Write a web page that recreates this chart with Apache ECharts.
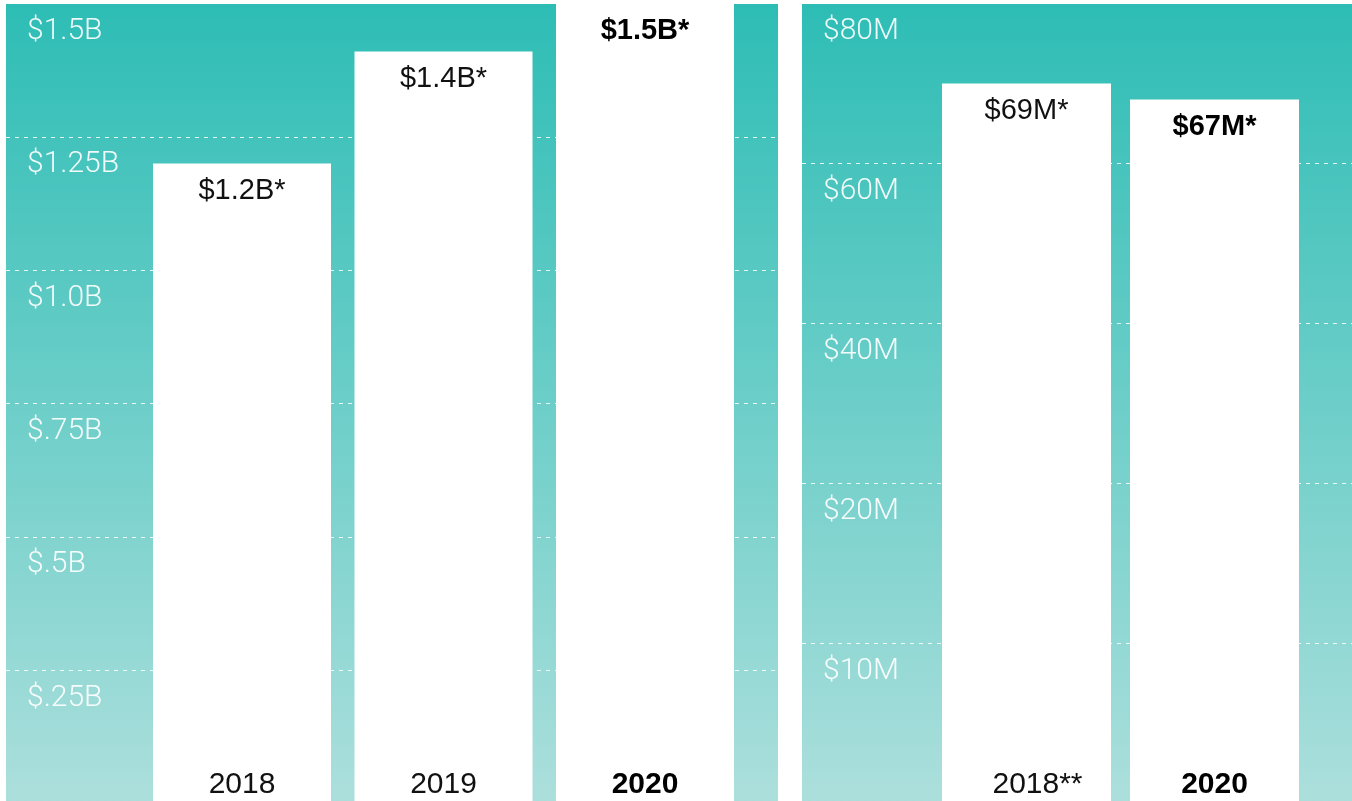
<!DOCTYPE html>
<html>
<head>
    <title>Revenue bars</title>
    <meta charset="utf-8" />
    <script src="https://cdn.jsdelivr.net/npm/echarts@6/dist/echarts.min.js"></script>
    <style type="text/css">
        html,
        body {
            width: 100%;
            height: 100%;
            margin: 0;
            background: #fff;
        }

        #chart {
            width: 1352px;
            height: 801px;
        }
    </style>
</head>

<body>
    <div id="chart"></div>
    <script>
        // left panel, $B
        var leftCategories = ['2018', '2019', '2020'];
        var leftValues = [1.2, 1.41, 1.5];
        var leftValueLabels = ['$1.2B*', '$1.4B*', '$1.5B*'];
        var leftTickLabels = ['', '$.25B', '$.5B', '$.75B', '$1.0B', '$1.25B', '$1.5B'];
        var leftBold = 2;

        // right panel, $M (axis ticks are not evenly spaced in value)
        var rightCategories = ['2018**', '2020'];
        var rightValues = [70, 68];
        var rightValueLabels = ['$69M*', '$67M*'];
        var rightTickValues = [0, 10, 20, 40, 60, 80];
        var rightTickLabels = ['', '$10M', '$20M', '$40M', '$60M', '$80M'];
        var rightBold = 1;

        // value -> tick position on the right axis (piecewise between ticks)
        function rightPos(v) {
            for (var i = 0; i < rightTickValues.length - 1; i++) {
                var a = rightTickValues[i], b = rightTickValues[i + 1];
                if (v <= b) return i + (v - a) / (b - a);
            }
            return rightTickValues.length - 1;
        }

        var TOP = 3.5, H = 800;
        var blackFont = '"Liberation Sans", Arial, Helvetica, sans-serif';
        var lightFont = 'Roboto, "Liberation Sans", sans-serif';

        function panelBg(x, w) {
            return {
                type: 'rect',
                z: -1,
                silent: true,
                shape: { x: x, y: 4, width: w, height: 797 },
                style: {
                    fill: new echarts.graphic.LinearGradient(0, 0, 0, 1, [
                        { offset: 0, color: '#2dbdb5' },
                        { offset: 1, color: '#acdfdc' }
                    ])
                }
            };
        }

        function bgYAxis(gridIndex, max, interval, labelFn) {
            return {
                type: 'value',
                gridIndex: gridIndex,
                min: 0,
                max: max,
                interval: interval,
                axisLine: { show: false },
                axisTick: { show: false },
                splitLine: {
                    show: true,
                    lineStyle: { color: 'rgba(255,255,255,0.85)', width: 1, type: [4, 5] }
                },
                axisLabel: {
                    inside: true,
                    margin: 21,
                    align: 'left',
                    verticalAlign: 'top',
                    padding: [13, 0, 0, 0],
                    lineHeight: 30,
                    fontSize: 30,
                    fontWeight: 300,
                    fontFamily: lightFont,
                    color: 'rgba(255,255,255,0.92)',
                    formatter: labelFn
                }
            };
        }

        function catXAxis(gridIndex, cats, boldIdx) {
            return {
                type: 'category',
                gridIndex: gridIndex,
                data: cats,
                z: 10,
                axisLine: { show: false },
                axisTick: { show: false },
                axisLabel: {
                    margin: -34,
                    interval: 0,
                    formatter: function (v, i) {
                        if (i === boldIdx) return '{b|' + v + '}';
                        // keep the year centred, let trailing asterisks hang
                        return (/\*\*$/.test(v) ? '{p|' : '{n|') + v + '}';
                    },
                    rich: {
                        n: { fontSize: 30, lineHeight: 30, fontFamily: blackFont, color: '#111' },
                        p: { fontSize: 30, lineHeight: 30, fontFamily: blackFont, color: '#111', padding: [0, 0, 0, 22] },
                        b: { fontSize: 30, lineHeight: 30, fontFamily: blackFont, fontWeight: 'bold', color: '#000' }
                    }
                }
            };
        }

        function barSeries(axisIndex, values, labels, boldIdx, width) {
            return {
                type: 'bar',
                xAxisIndex: axisIndex,
                yAxisIndex: axisIndex,
                barWidth: width,
                silent: true,
                z: 1,
                itemStyle: { color: '#ffffff' },
                label: {
                    show: true,
                    position: 'insideTop',
                    distance: 13,
                    fontSize: 29,
                    lineHeight: 29,
                    fontFamily: blackFont,
                    color: '#111',
                    formatter: function (p) { return labels[p.dataIndex]; }
                },
                data: values.map(function (v, i) {
                    return {
                        value: v,
                        label: { fontWeight: i === boldIdx ? 'bold' : 'normal', color: i === boldIdx ? '#000' : '#111' }
                    };
                })
            };
        }

        var chart = echarts.init(document.getElementById('chart'));
        var option = {
            animation: false,
            backgroundColor: '#fff',
            graphic: [panelBg(6, 772), panelBg(802, 550)],
            grid: [
                { left: 6, width: 772, top: TOP, height: H, outerBoundsMode: 'none' },
                { left: 141.25, width: 604.5, top: TOP, height: H, outerBoundsMode: 'none' },
                { left: 802, width: 550, top: TOP, height: H, outerBoundsMode: 'none' },
                { left: 932.5, width: 376, top: TOP, height: H, outerBoundsMode: 'none' }
            ],
            xAxis: [
                { type: 'value', gridIndex: 0, show: false, min: 0, max: 1 },
                catXAxis(1, leftCategories, leftBold),
                { type: 'value', gridIndex: 2, show: false, min: 0, max: 1 },
                catXAxis(3, rightCategories, rightBold)
            ],
            yAxis: [
                bgYAxis(0, 1.5, 0.25, function (v) { return leftTickLabels[Math.round(v / 0.25)]; }),
                { type: 'value', gridIndex: 1, min: 0, max: 1.5, show: false },
                bgYAxis(2, rightTickValues.length - 1, 1, function (v) { return rightTickLabels[Math.round(v)]; }),
                { type: 'value', gridIndex: 3, min: 0, max: rightTickValues.length - 1, show: false }
            ],
            series: [
                barSeries(1, leftValues, leftValueLabels, leftBold, 178),
                barSeries(3, rightValues.map(rightPos), rightValueLabels, rightBold, 169)
            ]
        };
        chart.setOption(option);
    </script>
</body>
</html>
